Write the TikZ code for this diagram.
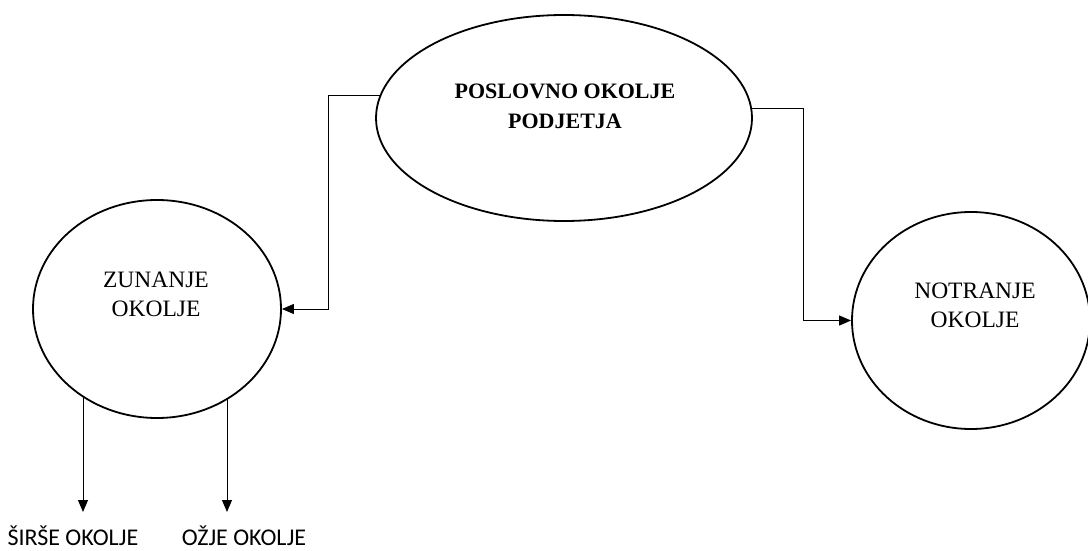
\documentclass[tikz,border=0pt]{standalone}
\usepackage{fontspec}
\setmainfont{Liberation Serif}
\newfontfamily\calib{Carlito}
\usetikzlibrary{arrows.meta,shapes.geometric}
\tikzset{
  env/.style={ellipse,draw,line width=1.8pt,inner sep=0pt},
  lbl/.style={align=center,inner sep=0pt,font=\fontsize{23.5}{29}\selectfont},
  conn/.style={line width=1pt},
  arr/.style={conn,-{Triangle[length=12pt,width=10pt]}},
  sub/.style={inner sep=0pt,anchor=base,font=\calib\fontsize{24}{28}\selectfont}
}
\begin{document}
\begin{tikzpicture}[x=1pt,y=-1pt]
\useasboundingbox (0,0) rectangle (1088,551);
\node[env,minimum width=376pt,minimum height=206pt] (top) at (564,118) {};
\node[env,minimum width=248pt,minimum height=218pt] (left) at (157,309) {};
\node[env,minimum width=238pt,minimum height=217pt] (right) at (971,320.5) {};
\node[lbl,font=\bfseries\fontsize{22}{30}\selectfont] (toptext) at (565,106) {POSLOVNO OKOLJE\\PODJETJA};
\node[lbl] (lefttext) at (156,294) {ZUNANJE\\OKOLJE};
\node[lbl] (righttext) at (975,305.5) {NOTRANJE\\OKOLJE};
\node[sub] (sirse) at (73,545) {ŠIRŠE OKOLJE};
\node[sub] (ozje) at (244,545) {OŽJE OKOLJE};
\coordinate (lc) at (328,0);
\coordinate (rc) at (803,0);
\coordinate (a1) at (83,512);
\coordinate (a2) at (227,512);
\draw[arr] (top.173.5) -- (top.173.5 -| lc) |- (left.east);
\draw[arr] (top.3) -- (top.3 -| rc) |- (right.west);
\draw[arr] (a1 |- left.230) -- (a1);
\draw[arr] (a2 |- left.309) -- (a2);
\end{tikzpicture}
\end{document}
